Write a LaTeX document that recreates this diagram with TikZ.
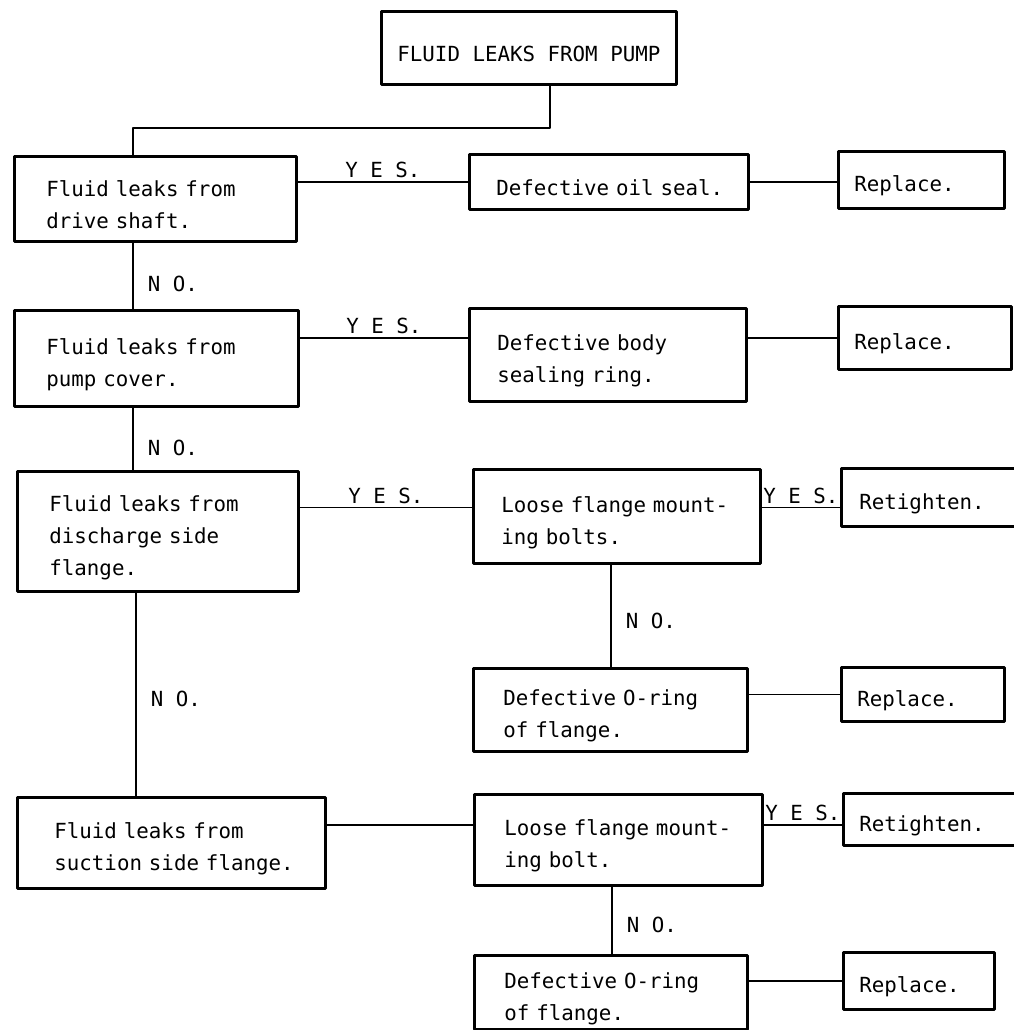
\documentclass[tikz,border=0pt]{standalone}
\usepackage{fontspec}
\newfontfamily\chartfont{DejaVu Sans Mono}
\usepackage{tikz}

\begin{document}
\begin{tikzpicture}[x=1pt, y=-1pt, line join=round,
  every node/.style={font=\chartfont\fontsize{20.8}{32}\selectfont},
  box/.style={draw, line width=2.8pt, anchor=north west, inner ysep=0pt,
    execute at begin node={\rule{0pt}{28pt}}},
  conn/.style={line width=1.8pt},
  yes/.style={above=1pt, inner sep=2pt},
  no/.style={right=12pt, inner sep=2pt}]
\useasboundingbox (0,0) rectangle (1013,1030);
% top of the chart
\node[box, minimum width=295pt, minimum height=73pt, inner xsep=0pt] (pump) at (380,10) {FLUID LEAKS FROM PUMP};
% left column: the checks
\node[box, minimum width=282pt, minimum height=85pt, inner xsep=32pt, text width=218pt, align=left] (shaft) at (13,155) {Fluid leaks from\\drive shaft.};
\node[box, minimum width=284pt, minimum height=96pt, inner xsep=32pt, text width=220pt, align=left] (cover) at (13,309) {Fluid leaks from\\pump cover.};
\node[box, minimum width=281pt, minimum height=120pt, inner xsep=32pt, text width=217pt, align=left] (disch) at (16,470) {Fluid leaks from\\discharge side\\flange.};
\node[box, minimum width=308pt, minimum height=91pt, inner xsep=37pt, text width=234pt, align=left] (suct) at (16,796) {Fluid leaks from\\\mbox{suction side flange.}};
% middle column: the causes
\node[box, minimum width=279pt, minimum height=55pt, inner xsep=27pt, text width=225pt, align=left] (seal) at (468,153) {\mbox{Defective oil seal.}};
\node[box, minimum width=277pt, minimum height=93pt, inner xsep=28pt, text width=221pt, align=left] (ring) at (468,307) {Defective body\\sealing ring.};
\node[box, minimum width=287pt, minimum height=94pt, inner xsep=28pt, text width=231pt, align=left] (dbolts) at (472,468) {\mbox{Loose flange mount-}\\ing bolts.};
\node[box, minimum width=274pt, minimum height=83pt, inner xsep=30pt, text width=214pt, align=left] (doring) at (472,667) {Defective O-ring\\of flange.};
\node[box, minimum width=288pt, minimum height=91pt, inner xsep=30pt, text width=228pt, align=left] (sbolts) at (473,793) {\mbox{Loose flange mount-}\\ing bolt.};
\node[box, minimum width=273pt, minimum height=74pt, inner xsep=30pt, text width=213pt, align=left] (soring) at (473,954) {Defective O-ring\\of flange.};
% right column: the remedies
\node[box, minimum width=166pt, minimum height=57pt, inner xsep=16pt, text width=134pt, align=left] (sealrep) at (837,150) {Replace.};
\node[box, minimum width=173pt, minimum height=63pt, inner xsep=16pt, text width=141pt, align=left] (ringrep) at (837,305) {Replace.};
\node[box, minimum width=190pt, minimum height=58pt, inner xsep=18pt, text width=154pt, align=left] (dretight) at (840,467) {Retighten.};
\node[box, minimum width=163pt, minimum height=54pt, inner xsep=16pt, text width=131pt, align=left] (doringrep) at (840,666) {Replace.};
\node[box, minimum width=190pt, minimum height=52pt, inner xsep=16pt, text width=158pt, align=left] (sretight) at (842,792) {Retighten.};
\node[box, minimum width=151pt, minimum height=57pt, inner xsep=16pt, text width=119pt, align=left] (soringrep) at (842,951) {Replace.};

% connectors
\draw[conn] ([xshift=170pt]pump.south west) -- ++(0,42) -| ([xshift=120pt]shaft.north west);
\draw[conn] (seal.west) -- node[yes] {Y E S.} (seal.west -| shaft.east);
\draw[conn] (seal.east) -- (seal.east -| sealrep.west);
\draw[conn] ([xshift=120pt]shaft.south west) -- node[no, pos=.62] {N O.} ([xshift=120pt]shaft.south west |- cover.north);
\draw[conn] (cover.east |- ringrep.west) -- node[yes] {Y E S.} (ring.west |- ringrep.west);
\draw[conn] (ring.east |- ringrep.west) -- (ringrep.west);
\draw[conn] ([xshift=120pt]cover.south west) -- node[no, pos=.65] {N O.} ([xshift=120pt]cover.south west |- disch.north);
\draw[conn] ([yshift=9pt]dbolts.west) -- node[yes] {Y E S.} ([yshift=9pt]dbolts.west -| disch.east);
\draw[conn] ([yshift=9pt]dbolts.east) -- node[yes] {Y E S.} ([yshift=9pt]dbolts.east -| dretight.west);
\draw[conn] ([xshift=139pt]dbolts.south west) -- node[no, pos=.55] {N O.} ([xshift=139pt]dbolts.south west |- doring.north);
\draw[conn] (doring.east |- doringrep.west) -- (doringrep.west);
\draw[conn] ([xshift=120pt]disch.south west) -- node[no, pos=.52] {N O.} ([xshift=120pt]disch.south west |- suct.north);
\draw[conn] ([yshift=15pt]sbolts.west) -- ([yshift=15pt]sbolts.west -| suct.east);
\draw[conn] ([yshift=15pt]sbolts.east) -- node[yes] {Y E S.} ([yshift=15pt]sbolts.east -| sretight.west);
\draw[conn] ([xshift=139pt]sbolts.south west) -- node[no, pos=.56] {N O.} ([xshift=139pt]sbolts.south west |- soring.north);
\draw[conn] (soring.east |- soringrep.west) -- (soringrep.west);
\end{tikzpicture}
\end{document}
